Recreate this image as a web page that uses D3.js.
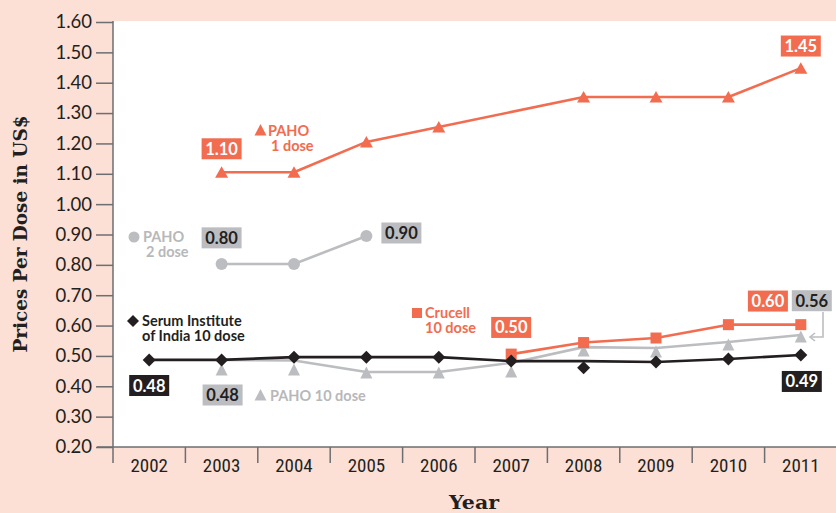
<!DOCTYPE html>
<html><head><meta charset="utf-8">
<script src="https://cdn.jsdelivr.net/npm/d3@7/dist/d3.min.js"></script>
<style>
html,body{margin:0;padding:0;background:#fcdfd5;}
svg{display:block;}
</style></head>
<body>
<svg id="chart" width="836" height="513"></svg>
<script>
// ---------- data ----------
const years = ["2002","2003","2004","2005","2006","2007","2008","2009","2010","2011"];
const yTicks = [0.20,0.30,0.40,0.50,0.60,0.70,0.80,0.90,1.00,1.10,1.20,1.30,1.40,1.50,1.60];
// PAHO 1 dose (no marker in 2007)
const paho1 = [null,1.105,1.105,1.205,1.254,null,1.353,1.353,1.353,1.448];
// PAHO 2 dose
const paho2 = [null,0.803,0.803,0.895,null,null,null,null,null,null];
// Serum Institute of India 10 dose: markers and the line drawn through them
const serumMarkers = [0.487,0.487,0.496,0.496,0.496,0.483,0.461,0.480,0.490,0.503];
const serumLine    = [0.487,0.487,0.496,0.496,0.496,0.483,0.483,0.480,0.490,0.503];
// PAHO 10 dose: markers and line
const paho10Markers = [null,0.454,0.454,0.444,0.444,0.447,0.516,0.513,0.536,0.562];
const paho10Line    = [null,0.487,0.485,0.447,0.447,0.477,0.529,0.526,0.546,0.569];
// Crucell 10 dose
const crucell = [null,null,null,null,null,0.506,0.544,0.559,0.603,0.603];
// value callouts
const callouts = [
  {text:"1.10", year:"2003", value:1.10, kind:"orange"},
  {text:"1.45", year:"2011", value:1.45, kind:"orange"},
  {text:"0.80", year:"2003", value:0.80, kind:"grey"},
  {text:"0.90", year:"2005", value:0.90, kind:"grey"},
  {text:"0.48", year:"2002", value:0.48, kind:"black"},
  {text:"0.48", year:"2003", value:0.48, kind:"grey"},
  {text:"0.50", year:"2007", value:0.50, kind:"orange"},
  {text:"0.60", year:"2010", value:0.60, kind:"orange"},
  {text:"0.56", year:"2011", value:0.56, kind:"grey"},
  {text:"0.49", year:"2011", value:0.49, kind:"black"}
];

// ---------- styles ----------
const ORANGE = "#f26c50", GREY = "#bcbdc0", BLACK = "#231f20", GREYTXT = "#b7b8ba";
const SANS = "Lato, 'Open Sans', sans-serif";

const svg = d3.select("#chart");
const x = d3.scaleBand().domain(years).range([113, 837]);
const y = d3.scaleLinear().domain([0.2, 1.6]).range([447, 22]);
const cx = yr => x(yr) + x.bandwidth()/2;

// plot background
svg.append("rect").attr("x",113).attr("y",21).attr("width",723).attr("height",426).attr("fill","#fff");

// y axis
const yAxis = d3.axisLeft(y).tickValues(yTicks).tickFormat(d3.format(".2f")).tickSize(17).tickPadding(4);
const gy = svg.append("g").attr("transform","translate(113,0)").call(yAxis);
gy.select(".domain").remove();
gy.selectAll(".tick line").attr("stroke","#6d6e71").attr("stroke-width",1.5);
gy.selectAll(".tick text").attr("font-family",SANS).attr("font-size",18.5).attr("fill",BLACK);
svg.append("line").attr("x1",113).attr("x2",113).attr("y1",21).attr("y2",463).attr("stroke","#6d6e71").attr("stroke-width",1.5);

// x axis
const gx = svg.append("g").attr("transform","translate(0,447)");
gx.append("line").attr("x1",97).attr("x2",836).attr("stroke","#6d6e71").attr("stroke-width",1.5);
gx.selectAll("line.tk").data(years.slice(1)).enter().append("line").attr("class","tk")
  .attr("x1",d=>x(d)).attr("x2",d=>x(d)).attr("y1",0).attr("y2",16)
  .attr("stroke","#6d6e71").attr("stroke-width",1.5);
gx.selectAll("text").data(years).enter().append("text")
  .attr("x",d=>cx(d)).attr("y",25).attr("text-anchor","middle")
  .attr("font-family","'Liberation Sans Narrow', 'Roboto Condensed', sans-serif").attr("font-size",19)
  .attr("fill",BLACK).text(d=>d);

// axis titles
svg.append("text").attr("transform","translate(27,234) rotate(-90)").attr("text-anchor","middle")
  .attr("font-family","'DejaVu Serif', serif").attr("font-weight","bold").attr("font-size",18)
  .attr("textLength",237).attr("lengthAdjust","spacingAndGlyphs")
  .attr("fill",BLACK).text("Prices Per Dose in US$");
svg.append("text").attr("x",474).attr("y",509).attr("text-anchor","middle")
  .attr("font-family","'DejaVu Serif', serif").attr("font-weight","bold").attr("font-size",19)
  .attr("textLength",50).attr("lengthAdjust","spacingAndGlyphs")
  .attr("fill",BLACK).text("Year");

// helpers
function pts(arr){ return years.map((yr,i)=>({yr, v:arr[i]})).filter(d=>d.v!=null); }
const lineGen = d3.line().x(d=>cx(d.yr)).y(d=>y(d.v));
function drawLine(arr,color,w){
  svg.append("path").datum(pts(arr)).attr("d",lineGen).attr("fill","none")
    .attr("stroke",color).attr("stroke-width",w).attr("stroke-linejoin","round");
}
const triPath = (w,up,down) => `M0,${-up}L${w/2},${down}L${-w/2},${down}Z`;

// lines (back to front)
drawLine(paho10Line, GREY, 2.6);
drawLine(crucell, ORANGE, 2.6);
drawLine(serumLine, BLACK, 2.6);
drawLine(paho2, GREY, 2.6);
drawLine(paho1, ORANGE, 2.6);

// markers
svg.selectAll("path.p10").data(pts(paho10Markers)).enter().append("path").attr("class","p10")
  .attr("transform",d=>`translate(${cx(d.yr)},${y(d.v)})`).attr("d",triPath(12,6.5,5.5)).attr("fill",GREY);
svg.selectAll("rect.cr").data(pts(crucell)).enter().append("rect").attr("class","cr")
  .attr("x",d=>cx(d.yr)-5.5).attr("y",d=>y(d.v)-5.5).attr("width",11).attr("height",11).attr("fill",ORANGE);
svg.selectAll("path.se").data(pts(serumMarkers)).enter().append("path").attr("class","se")
  .attr("transform",d=>`translate(${cx(d.yr)},${y(d.v)})`).attr("d","M0,-6.5L6.5,0L0,6.5L-6.5,0Z").attr("fill",BLACK);
svg.selectAll("circle.p2").data(pts(paho2)).enter().append("circle").attr("class","p2")
  .attr("cx",d=>cx(d.yr)).attr("cy",d=>y(d.v)).attr("r",6).attr("fill",GREY);
svg.selectAll("path.p1").data(pts(paho1)).enter().append("path").attr("class","p1")
  .attr("transform",d=>`translate(${cx(d.yr)},${y(d.v)})`).attr("d",triPath(13,6,5.5)).attr("fill",ORANGE);

// callout boxes
const boxOffsets = {
  "1.10|2003":[0,-25], "1.45|2011":[0,-21.5], "0.80|2003":[0,-27], "0.90|2005":[35,-1.5],
  "0.48|2002":[0,23.5], "0.48|2003":[1,33], "0.50|2007":[0,-28.5], "0.60|2010":[39.5,-24.5],
  "0.56|2011":[11,-37], "0.49|2011":[1,22.5]
};
const boxFill = {orange:ORANGE, grey:GREY, black:BLACK};
const boxText = {orange:"#fff", grey:BLACK, black:"#fff"};
callouts.forEach(c=>{
  const off = boxOffsets[c.text+"|"+c.year];
  const bx = cx(c.year)+off[0], by = y(c.value)+off[1];
  svg.append("rect").attr("x",bx-20).attr("y",by-10.5).attr("width",40).attr("height",21).attr("fill",boxFill[c.kind]);
  svg.append("text").attr("x",bx).attr("y",by+6).attr("text-anchor","middle")
    .attr("font-family",SANS).attr("font-weight","bold").attr("font-size",16.5)
    .attr("fill",boxText[c.kind]).text(c.text);
});

// arrow from 0.56 box to the 2011 PAHO 10 dose point
svg.append("path").attr("d","M823,312V337H810").attr("fill","none").attr("stroke",GREY).attr("stroke-width",1.6);
svg.append("path").attr("d","M815,333L810,337L815,341").attr("fill","none").attr("stroke",GREY).attr("stroke-width",1.6);

// legend labels
function legendText(lines, x0, y0, color){
  const t = svg.append("text").attr("font-family",SANS).attr("font-weight","bold").attr("font-size",14.5).attr("fill",color);
  lines.forEach((l,i)=>t.append("tspan").attr("x",x0[i]).attr("y",y0+i*14.5).text(l));
}
// PAHO 1 dose
svg.append("path").attr("transform","translate(260.5,130)").attr("d",triPath(12,6,5.5)).attr("fill",ORANGE);
legendText(["PAHO","1 dose"],[268,271],136,ORANGE);
// PAHO 2 dose
svg.append("circle").attr("cx",134).attr("cy",237).attr("r",5.5).attr("fill",GREY);
legendText(["PAHO","2 dose"],[143,146],242,GREYTXT);
// Serum Institute
svg.append("path").attr("transform","translate(133,321)").attr("d","M0,-6L6,0L0,6L-6,0Z").attr("fill",BLACK);
legendText(["Serum Institute","of India 10 dose"],[142,142],326,BLACK);
// Crucell
svg.append("rect").attr("x",412).attr("y",308).attr("width",10).attr("height",10).attr("fill",ORANGE);
legendText(["Crucell","10 dose"],[425,425],318,ORANGE);
// PAHO 10 dose
svg.append("path").attr("transform","translate(260.5,395)").attr("d",triPath(12,6,5.5)).attr("fill",GREY);
legendText(["PAHO 10 dose"],[270],401,GREYTXT);
</script>
</body></html>
